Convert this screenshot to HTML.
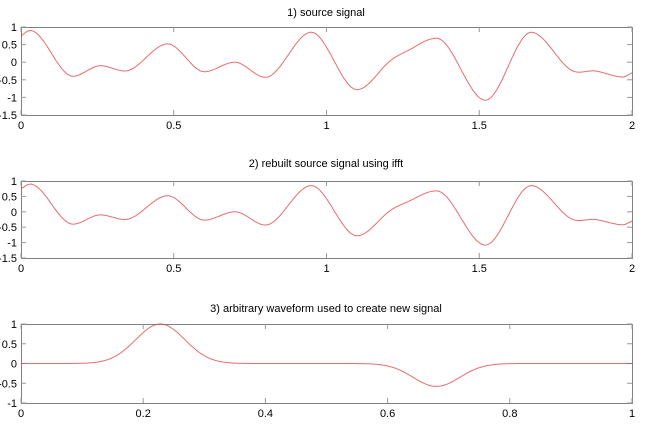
<!DOCTYPE html>
<html><head><style>
body{margin:0;background:#fff;}
svg text{font-family:"Liberation Sans","DejaVu Sans",sans-serif;font-size:11px;fill:#000;}
</style></head><body>
<svg id="s" width="650" height="441" xmlns="http://www.w3.org/2000/svg">
<text x="326" y="16" text-anchor="middle">1) source signal</text>
<text x="326" y="167" text-anchor="middle">2) rebuilt source signal using ifft</text>
<text x="326" y="312" text-anchor="middle">3) arbitrary waveform used to create new signal</text>
</svg>
<script>
var s=document.getElementById('s'),NS='http://www.w3.org/2000/svg';
function el(t,a){var e=document.createElementNS(NS,t);for(var k in a)e.setAttribute(k,a[k]);s.appendChild(e);return e;}
function txt(x,y,t,anc){var e=el('text',{x:x,y:y,'text-anchor':anc});e.textContent=t;}
function plot(top,bot,xmax,xt,xl,ymin,ymax,yt,yl,f){
 var L=21,R=632;
 function X(v){return L+(R-L)*v/xmax;} function Y(v){return bot-(bot-top)*(v-ymin)/(ymax-ymin);}
 el('rect',{x:L+0.5,y:top+0.5,width:R-L,height:bot-top,fill:'none',stroke:'#808080'});
 xt.forEach(function(v,i){var x=X(v);
  el('line',{x1:x,y1:bot,x2:x,y2:bot-5,stroke:'#999'});el('line',{x1:x,y1:top,x2:x,y2:top+5,stroke:'#999'});
  txt(x,bot+14,xl[i],'middle');});
 yt.forEach(function(v,i){var y=Y(v);
  el('line',{x1:L,y1:y,x2:L+5,y2:y,stroke:'#999'});el('line',{x1:R,y1:y,x2:R-5,y2:y,stroke:'#999'});
  txt(17,y+4,yl[i],'end');});
 var d='';for(var i=0;i<=600;i++){var v=xmax*i/600;d+=(i?'L':'M')+X(v).toFixed(1)+' '+Y(f(v)).toFixed(1);}
 el('path',{d:d,fill:'none',stroke:'#e04848','stroke-width':1,'stroke-opacity':0.8});
}
var P=[[0,0.75],[0.03,0.9],[0.17,-0.4],[0.26,-0.1],[0.34,-0.25],[0.48,0.52],[0.6,-0.27],[0.7,0.0],[0.8,-0.43],[0.95,0.85],[1.1,-0.78],[1.21,0.05],[1.26,0.3],[1.36,0.68],[1.52,-1.08],[1.67,0.85],[1.8,-0.22],[1.88,-0.25],[1.97,-0.42],[2,-0.3]];
function src(x){var i=0;while(i<P.length-2&&x>P[i+1][0])i++;
 var p0=P[Math.max(0,i-1)],p1=P[i],p2=P[i+1],p3=P[Math.min(P.length-1,i+2)];
 var h=p2[0]-p1[0],t=(x-p1[0])/h;
 var m1=(p2[1]-p0[1])/(p2[0]-p0[0]||1)*h,m2=(p3[1]-p1[1])/(p3[0]-p1[0]||1)*h;
 if(i>0&&((p1[1]-p0[1])*(p2[1]-p1[1])<=0))m1=0; if(i<P.length-2&&((p2[1]-p1[1])*(p3[1]-p2[1])<=0))m2=0;
 var t2=t*t,t3=t2*t;return (2*t3-3*t2+1)*p1[1]+(t3-2*t2+t)*m1+(-2*t3+3*t2)*p2[1]+(t3-t2)*m2;}
var yt1=[1,0.5,0,-0.5,-1,-1.5],yl1=['1','0.5','0','-0.5','-1','-1.5'];
plot(27,115,2,[0,0.5,1,1.5,2],['0','0.5','1','1.5','2'],-1.5,1,yt1,yl1,src);
plot(181,258,2,[0,0.5,1,1.5,2],['0','0.5','1','1.5','2'],-1.5,1,yt1,yl1,src);
plot(324,403,1,[0,0.2,0.4,0.6,0.8,1],['0','0.2','0.4','0.6','0.8','1'],-1,1,[1,0.5,0,-0.5,-1],['1','0.5','0','-0.5','-1'],
 function(x){return Math.exp(-Math.pow((x-0.228)/0.04,2)/2)-0.58*Math.exp(-Math.pow((x-0.68)/0.038,2)/2);});
</script>
</body></html>
